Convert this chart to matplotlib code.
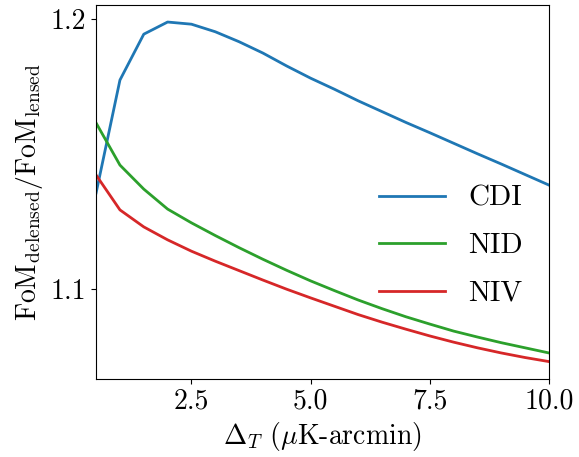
import numpy as np
import matplotlib
matplotlib.use("Agg")
import matplotlib.pyplot as plt

plt.rcParams["font.family"] = "serif"
plt.rcParams["font.serif"] = ["cmr10", "DejaVu Serif"]
plt.rcParams["mathtext.fontset"] = "cm"
plt.rcParams["axes.formatter.use_mathtext"] = True

# noise level Delta_T (muK-arcmin)
delta_t = [0.5, 1.0, 1.5, 2.0, 2.5, 3.0, 3.5, 4.0, 4.5, 5.0,
           5.5, 6.0, 6.5, 7.0, 7.5, 8.0, 8.5, 9.0, 9.5, 10.0]

fom_cdi = [1.1356, 1.1774, 1.1944, 1.1989, 1.1981, 1.1953, 1.1916, 1.1874, 1.1826, 1.1781,
           1.1740, 1.1697, 1.1657, 1.1617, 1.1579, 1.1540, 1.1501, 1.1463, 1.1424, 1.1385]
fom_nid = [1.1615, 1.1459, 1.1370, 1.1296, 1.1245, 1.1198, 1.1153, 1.1110, 1.1069, 1.1030,
           1.0994, 1.0959, 1.0927, 1.0897, 1.0870, 1.0844, 1.0822, 1.0801, 1.0782, 1.0763]
fom_niv = [1.1422, 1.1293, 1.1230, 1.1182, 1.1140, 1.1103, 1.1068, 1.1033, 1.0999, 1.0967,
           1.0936, 1.0905, 1.0877, 1.0851, 1.0826, 1.0803, 1.0782, 1.0763, 1.0746, 1.0731]

fig = plt.figure(figsize=(5.79, 4.57), dpi=100)
ax = fig.add_axes([0.166, 0.171, 0.782, 0.818])

ax.plot(delta_t, fom_cdi, color="tab:blue", lw=2, label="CDI")
ax.plot(delta_t, fom_nid, color="tab:green", lw=2, label="NID")
ax.plot(delta_t, fom_niv, color="tab:red", lw=2, label="NIV")

ax.set_xlim(0.5, 10.0)
ax.set_ylim(1.0667, 1.2052)
ax.set_xticks([2.5, 5.0, 7.5, 10.0])
ax.set_xticklabels(["2.5", "5.0", "7.5", "10.0"])
ax.set_yticks([1.1, 1.2])
ax.set_yticklabels(["1.1", "1.2"])
ax.tick_params(labelsize=20)

ax.set_xlabel(r"$\Delta_T$ ($\mu$K-arcmin)", fontsize=20)
ax.set_ylabel(r"$\mathrm{FoM}_{\mathrm{delensed}}/\mathrm{FoM}_{\mathrm{lensed}}$", fontsize=20)

ax.legend(loc="center right", bbox_to_anchor=(1.0, 0.355), frameon=False, fontsize=21,
          handlelength=2.25, labelspacing=0.72)

fig.savefig("out.png", dpi=100)
